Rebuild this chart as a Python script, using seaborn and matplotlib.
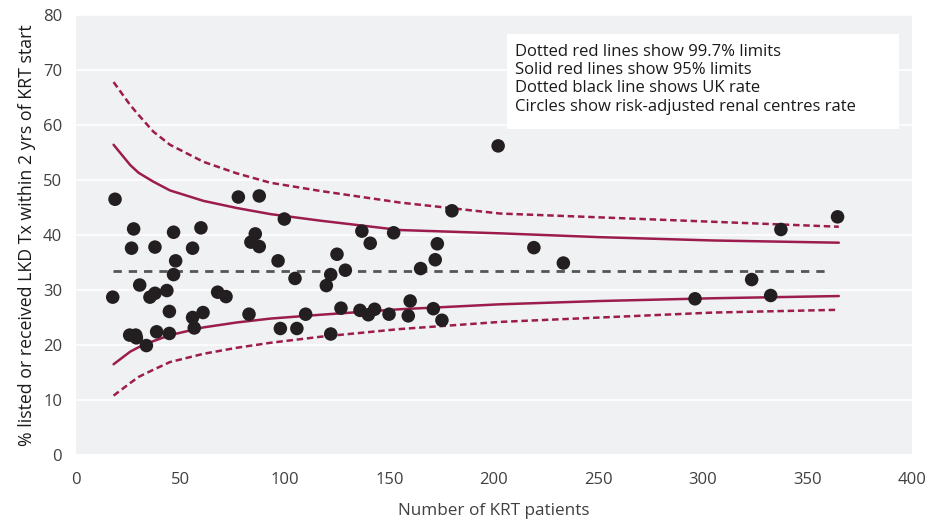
import numpy as np
import pandas as pd
import matplotlib
matplotlib.use('Agg')
import matplotlib.pyplot as plt
import seaborn as sns
from matplotlib.patches import Rectangle

sns.set_theme(style='white')
plt.rcParams['font.family'] = ['Open Sans', 'DejaVu Sans']

# renal centres: number of KRT patients and risk-adjusted rate (%)
patients = [18.7, 77.7, 87.7, 99.7, 27.6, 46.7, 59.8, 85.8, 83.7, 87.7,
            26.6, 37.8, 55.8, 96.7, 47.7, 104.8, 46.7, 30.5, 17.6, 37.8,
            35.4, 43.5, 67.8, 71.8, 44.7, 55.8, 60.8, 82.8, 109.9, 56.6,
            97.8, 105.7, 25.7, 28.6, 28.9, 38.6, 44.7, 33.7,
            202.0, 179.9, 136.8, 152.0, 140.8, 172.9, 124.9, 219.1, 171.9,
            233.2, 128.9, 121.9, 164.9, 119.8, 126.8, 159.9, 135.9, 139.9,
            142.9, 149.8, 159.0, 171.0, 175.1, 121.9,
            364.4, 337.3, 323.3, 332.4, 296.2]
rate = [46.5, 46.9, 47.1, 42.9, 41.1, 40.5, 41.3, 40.2, 38.7, 37.9,
        37.6, 37.8, 37.6, 35.3, 35.3, 32.1, 32.8, 30.9, 28.7, 29.4,
        28.7, 29.9, 29.6, 28.8, 26.1, 25.0, 25.9, 25.6, 25.6, 23.1,
        23.0, 23.0, 21.8, 21.8, 21.3, 22.4, 22.1, 19.9,
        56.2, 44.4, 40.7, 40.4, 38.5, 38.4, 36.5, 37.7, 35.5,
        34.9, 33.6, 32.8, 33.9, 30.8, 26.7, 28.0, 26.3, 25.5,
        26.5, 25.6, 25.3, 26.6, 24.5, 22.0,
        43.3, 41.0, 31.9, 29.0, 28.4]

# funnel limits read at these patient numbers
limit_n = [18, 26, 30, 37, 45, 61, 77, 93, 117, 155, 203, 251, 305, 365]
upper_997 = [67.8, 63.6, 61.8, 58.8, 56.4, 53.3, 51.2, 49.5, 48.0, 45.9, 43.9, 43.2, 42.4, 41.5]
upper_95 = [56.4, 52.7, 51.3, 49.7, 48.1, 46.2, 44.9, 43.8, 42.6, 40.9, 40.3, 39.6, 39.0, 38.6]
lower_95 = [16.5, 18.8, 19.6, 20.7, 21.8, 23.2, 24.1, 24.8, 25.5, 26.5, 27.4, 28.0, 28.5, 28.9]
lower_997 = [10.8, 13.1, 14.2, 15.5, 16.9, 18.4, 19.5, 20.4, 21.5, 22.9, 24.2, 25.0, 25.9, 26.4]
uk_rate = 33.5
uk_span = [17.6, 360]

red = '#9c1d4d'
txt = '#404040'

centres = pd.DataFrame({'n': patients, 'rate': rate})
limits = pd.DataFrame({'n': limit_n, 'u997': upper_997, 'u95': upper_95,
                       'l95': lower_95, 'l997': lower_997})

fig = plt.figure(figsize=(9.32, 5.27), dpi=100)
ax = fig.add_axes([0.0815, 0.1366, 0.897, 0.835])
ax.set_facecolor('#f0f1f3')

for col in ['u997', 'l997']:
    sns.lineplot(data=limits, x='n', y=col, ax=ax, color=red, lw=1.8,
                 linestyle=(0, (2.6, 1.5)))
for col in ['u95', 'l95']:
    sns.lineplot(data=limits, x='n', y=col, ax=ax, color=red, lw=1.8)
ax.plot(uk_span, [uk_rate, uk_rate], color='#555555', lw=2, linestyle=(0, (3, 2.5)))

sns.scatterplot(data=centres, x='n', y='rate', ax=ax, color='#231f20', s=95,
                edgecolor='none', zorder=5)

ax.set_xlim(0, 400)
ax.set_ylim(0, 80)
ax.set_xticks(range(0, 401, 50))
ax.set_yticks(range(0, 81, 10))
ax.grid(axis='y', color='white', lw=1.2)
ax.set_axisbelow(True)
for s in ['top', 'right', 'left']:
    ax.spines[s].set_visible(False)
ax.spines['bottom'].set_color('white')
ax.spines['bottom'].set_linewidth(1.2)
ax.tick_params(axis='x', direction='in', color='white', length=4, width=1.2,
               labelsize=12, labelcolor=txt, pad=12)
ax.tick_params(axis='y', length=0, labelsize=12, labelcolor=txt, pad=10)

ax.set_xlabel('Number of KRT patients', fontsize=12.3, color=txt, labelpad=11)
ax.set_ylabel('% listed or received LKD Tx within 2 yrs of KRT start',
              fontsize=12.8, color='#1a1a1a', labelpad=5)

ax.add_patch(Rectangle((0.5156, 0.741), 0.469, 0.216, transform=ax.transAxes,
                       facecolor='white', edgecolor='none', zorder=6))
notes = ['Dotted red lines show 99.7% limits',
         'Solid red lines show 95% limits',
         'Dotted black line shows UK rate',
         'Circles show risk-adjusted renal centres rate']
ax.text(0.525, 0.935, '\n'.join(notes), transform=ax.transAxes, va='top', ha='left',
        fontsize=12, color='#1a1a1a', linespacing=1.2, zorder=7)

fig.savefig('out.png', dpi=100)
